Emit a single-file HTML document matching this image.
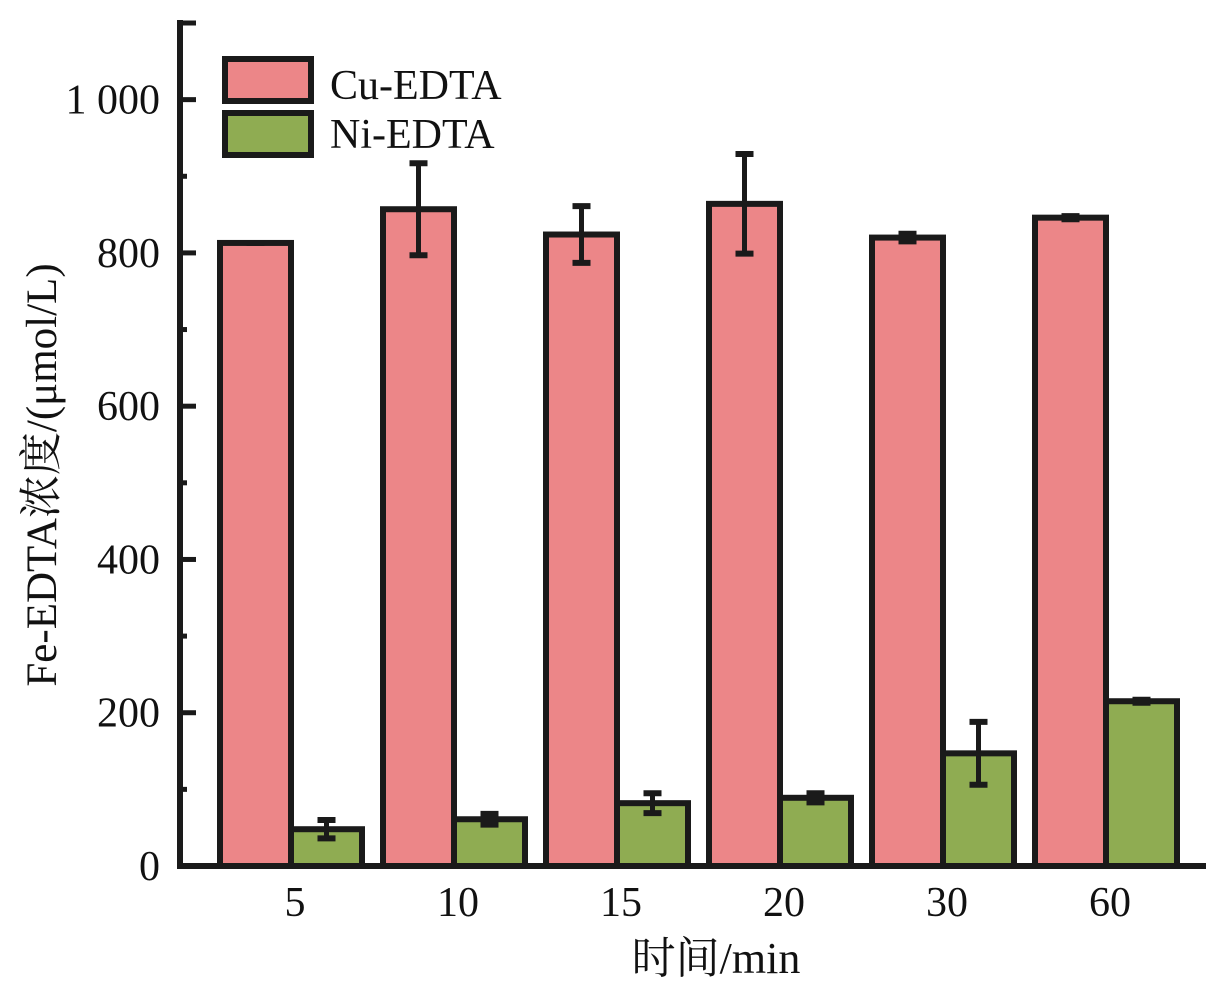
<!DOCTYPE html>
<html><head><meta charset="utf-8"><style>
html,body{margin:0;padding:0;background:#fff;}
svg{display:block;font-family:"Liberation Serif","Noto Serif CJK SC",serif;}
</style></head><body>
<svg id="chart" width="1221" height="984" viewBox="0 0 1221 984" xmlns="http://www.w3.org/2000/svg">
<g id="bars"></g>
<g id="axes"></g>
<g>
 <rect x="225" y="59" width="86" height="42" fill="#ec8688" stroke="#1a1a1a" stroke-width="6"/>
 <text x="330" y="99" font-size="42" fill="#111">Cu-EDTA</text>
 <rect x="225" y="113" width="86" height="42" fill="#8fac52" stroke="#1a1a1a" stroke-width="6"/>
 <text x="330" y="148" font-size="42" fill="#111">Ni-EDTA</text>
</g>
<text x="716" y="973" font-size="44" text-anchor="middle" fill="#111">时间/min</text>
<text transform="translate(56,475) rotate(-90)" font-size="43" text-anchor="middle" fill="#111">Fe-EDTA浓度/(μmol/L)</text>
</svg>
<script>
const categories=["5","10","15","20","30","60"];
const cuValues=[813,857,824,864,820,846];
const cuErrors=[0,60,37,65,5,2];
const niValues=[48,61,82,89,147,215];
const niErrors=[12,7,13,6,41,2];
const yTicks=[0,200,400,600,800,1000];
const yTickLabels=["0","200","400","600","800","1 000"];
const yMax=1100;

const NS="http://www.w3.org/2000/svg";
const y0=866, yTop=23, axisX=180;
function yScale(v){return y0-(v/yMax)*(y0-yTop);}
const groupStart=220, groupStep=163, barW=71;
function xCu(i){return groupStart+i*groupStep;}
function xNi(i){return xCu(i)+barW;}
function mk(tag,attrs,parent){const e=document.createElementNS(NS,tag);for(const k in attrs)e.setAttribute(k,attrs[k]);parent.appendChild(e);return e;}
const bars=document.getElementById('bars');
const axes=document.getElementById('axes');
function drawBar(x,v,err,fill,name){
  const yt=yScale(v);
  const r=mk('rect',{x:x,y:yt,width:barW,height:y0-yt,fill:fill,stroke:'#1a1a1a','stroke-width':6},bars);
  
  
  const cx=x+barW/2;
  const ya=yScale(v+err), yb=yScale(v-err);
  const g=mk('g',{},bars);
  
  
  mk('line',{x1:cx,x2:cx,y1:ya,y2:yb,stroke:'#1a1a1a','stroke-width':5},g);
  mk('line',{x1:cx-9,x2:cx+9,y1:ya,y2:ya,stroke:'#1a1a1a','stroke-width':6},g);
  mk('line',{x1:cx-9,x2:cx+9,y1:yb,y2:yb,stroke:'#1a1a1a','stroke-width':6},g);
}
categories.forEach((c,i)=>{
  drawBar(xCu(i),cuValues[i],cuErrors[i],'#ec8688','bar-cu-'+c);
  drawBar(xNi(i),niValues[i],niErrors[i],'#8fac52','bar-ni-'+c);
  const t=mk('text',{x:xNi(i)+4,y:916,'font-size':42,'text-anchor':'middle',fill:'#111'},axes);
  t.textContent=c;
  
  
});
const yl=mk('line',{x1:axisX,x2:axisX,y1:yTop-3,y2:y0+3,stroke:'#1a1a1a','stroke-width':6},axes);


const xl=mk('line',{x1:axisX-3,x2:1206,y1:y0,y2:y0,stroke:'#1a1a1a','stroke-width':6},axes);


for(let v=0;v<=yMax;v+=100){
  const major=(v%200===0)||v===yMax;
  mk('line',{x1:axisX,x2:axisX+(major?16:7),y1:yScale(v),y2:yScale(v),stroke:'#1a1a1a','stroke-width':5},axes);
}
yTicks.forEach((v,i)=>{
  const t=mk('text',{x:160,y:yScale(v)+14,'font-size':42,'text-anchor':'end',fill:'#111'},axes);
  t.textContent=yTickLabels[i];
  
  
});
</script>
</body></html>
